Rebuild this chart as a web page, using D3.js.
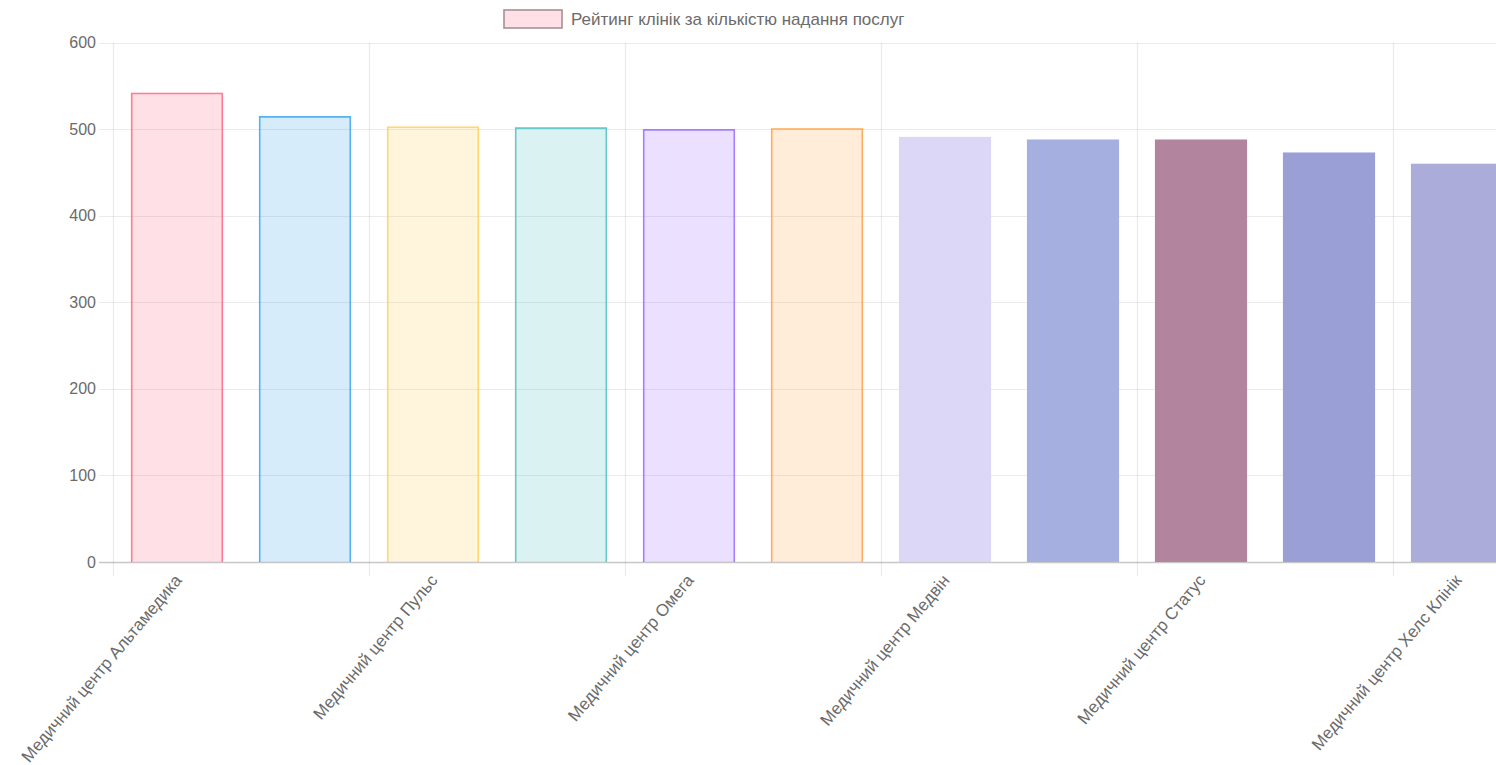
<!DOCTYPE html>
<html>
<head>
<meta charset="utf-8">
<script src="https://cdn.jsdelivr.net/npm/d3@7/dist/d3.min.js"></script>
<style>
  html, body { margin: 0; padding: 0; background: #fff; overflow: hidden; }
  text { font-family: "Liberation Sans", Arial, Helvetica, sans-serif; fill: #6b6b6b; }
</style>
</head>
<body>
<div id="grafico"></div>
<script>
// Дані графіка
const clinics = [
    'Медичний центр Альтамедика',
    'Клініка 2',
    'Медичний центр Пульс',
    'Клініка 4',
    'Медичний центр Омега',
    'Клініка 6',
    'Медичний центр Медвін',
    'Клініка 8',
    'Медичний центр Статус',
    'Клініка 10',
    'Медичний центр Хелс Клінік'
];
const services = [542, 515, 503, 502, 500, 501, 491, 488, 488, 473, 460];
const yTicks = [0, 100, 200, 300, 400, 500, 600];
const legendLabel = 'Рейтинг клінік за кількістю надання послуг';

// Кольори стовпців
const fills = [
    'rgba(255, 99, 132, 0.2)', 'rgba(54, 162, 235, 0.2)', 'rgba(255, 206, 86, 0.2)',
    'rgba(75, 192, 192, 0.2)', 'rgba(153, 102, 255, 0.2)', 'rgba(255, 159, 64, 0.2)',
    '#dcd6f7', '#a6b0e0', '#b3849e', '#9aa0d6', '#abacda'
];
const borders = [
    'rgba(255, 99, 132, 0.8)', 'rgba(54, 162, 235, 0.8)', 'rgba(255, 206, 86, 0.8)',
    'rgba(75, 192, 192, 0.8)', 'rgba(153, 102, 255, 0.8)', 'rgba(255, 159, 64, 0.8)',
    null, null, null, null, null
];

// Розміри
const W = 1496, H = 765;
const plotLeft = 113, plotTop = 42.5, plotBottom = 562;
const step = 128;
const fontSize = 17;

const svg = d3.select('#grafico').append('svg')
    .attr('width', W)
    .attr('height', H);

const x = d3.scaleBand().domain(clinics)
    .range([plotLeft, plotLeft + step * clinics.length])
    .paddingInner(0).paddingOuter(0);

const y = d3.scaleLinear().domain([0, 600]).range([plotBottom, plotTop]);

const barW = x.bandwidth() * 0.8 * 0.9;

// Горизонтальна сітка
svg.append('g').selectAll('line')
    .data(yTicks)
    .join('line')
    .attr('x1', plotLeft - 14)
    .attr('x2', W)
    .attr('y1', d => Math.round(y(d)) + 0.5)
    .attr('y2', d => Math.round(y(d)) + 0.5)
    .attr('stroke', d => d === 0 ? 'rgba(0,0,0,0.22)' : 'rgba(0,0,0,0.08)')
    .attr('stroke-width', d => d === 0 ? 1.5 : 1.2);

// Вертикальна сітка (лише для видимих підписів)
const shown = clinics.filter((d, i) => i % 2 === 0);
svg.append('g').selectAll('line')
    .data(shown)
    .join('line')
    .attr('x1', d => x(d) + 0.5)
    .attr('x2', d => x(d) + 0.5)
    .attr('y1', plotTop)
    .attr('y2', plotBottom + 14)
    .attr('stroke', 'rgba(0,0,0,0.08)')
    .attr('stroke-width', 1.2);

// Підписи осі Y
svg.append('g').selectAll('text')
    .data(yTicks)
    .join('text')
    .attr('x', plotLeft - 17)
    .attr('y', d => y(d))
    .attr('dy', '0.35em')
    .attr('text-anchor', 'end')
    .style('font-size', (fontSize - 1) + 'px')
    .text(d => d);

// Стовпці
const bars = svg.append('g').selectAll('g')
    .data(services)
    .join('g');

bars.append('rect')
    .attr('x', (d, i) => x(clinics[i]) + (x.bandwidth() - barW) / 2)
    .attr('y', d => y(d))
    .attr('width', barW)
    .attr('height', d => plotBottom - y(d))
    .attr('fill', (d, i) => fills[i]);

// Рамка без нижньої сторони, як у Chart.js
const bw = 1.6;
bars.filter((d, i) => borders[i])
    .append('path')
    .attr('d', (d, i) => {
        const x0 = x(clinics[i]) + (x.bandwidth() - barW) / 2 + bw / 2;
        const x1 = x0 + barW - bw;
        const y0 = y(d) + bw / 2;
        return `M${x0},${plotBottom}V${y0}H${x1}V${plotBottom}`;
    })
    .attr('fill', 'none')
    .attr('stroke', (d, i) => borders[i])
    .attr('stroke-width', bw);

// Повернуті підписи осі X
svg.append('g').selectAll('text')
    .data(shown)
    .join('text')
    .attr('transform', d => `translate(${x(d) + x.bandwidth() / 2 + 1}, ${plotBottom + 15}) rotate(-50)`)
    .attr('text-anchor', 'end')
    .attr('dy', '0.35em')
    .style('font-size', fontSize + 'px')
    .text(d => d);

// Легенда
const legend = svg.append('g');
legend.append('rect')
    .attr('x', 504)
    .attr('y', 10)
    .attr('width', 58)
    .attr('height', 18)
    .attr('fill', fills[0])
    .attr('stroke', '#a89096')
    .attr('stroke-width', 1.6);
legend.append('text')
    .attr('x', 571)
    .attr('y', 19)
    .attr('dy', '0.35em')
    .style('font-size', fontSize + 'px')
    .text(legendLabel);
</script>
</body>
</html>
